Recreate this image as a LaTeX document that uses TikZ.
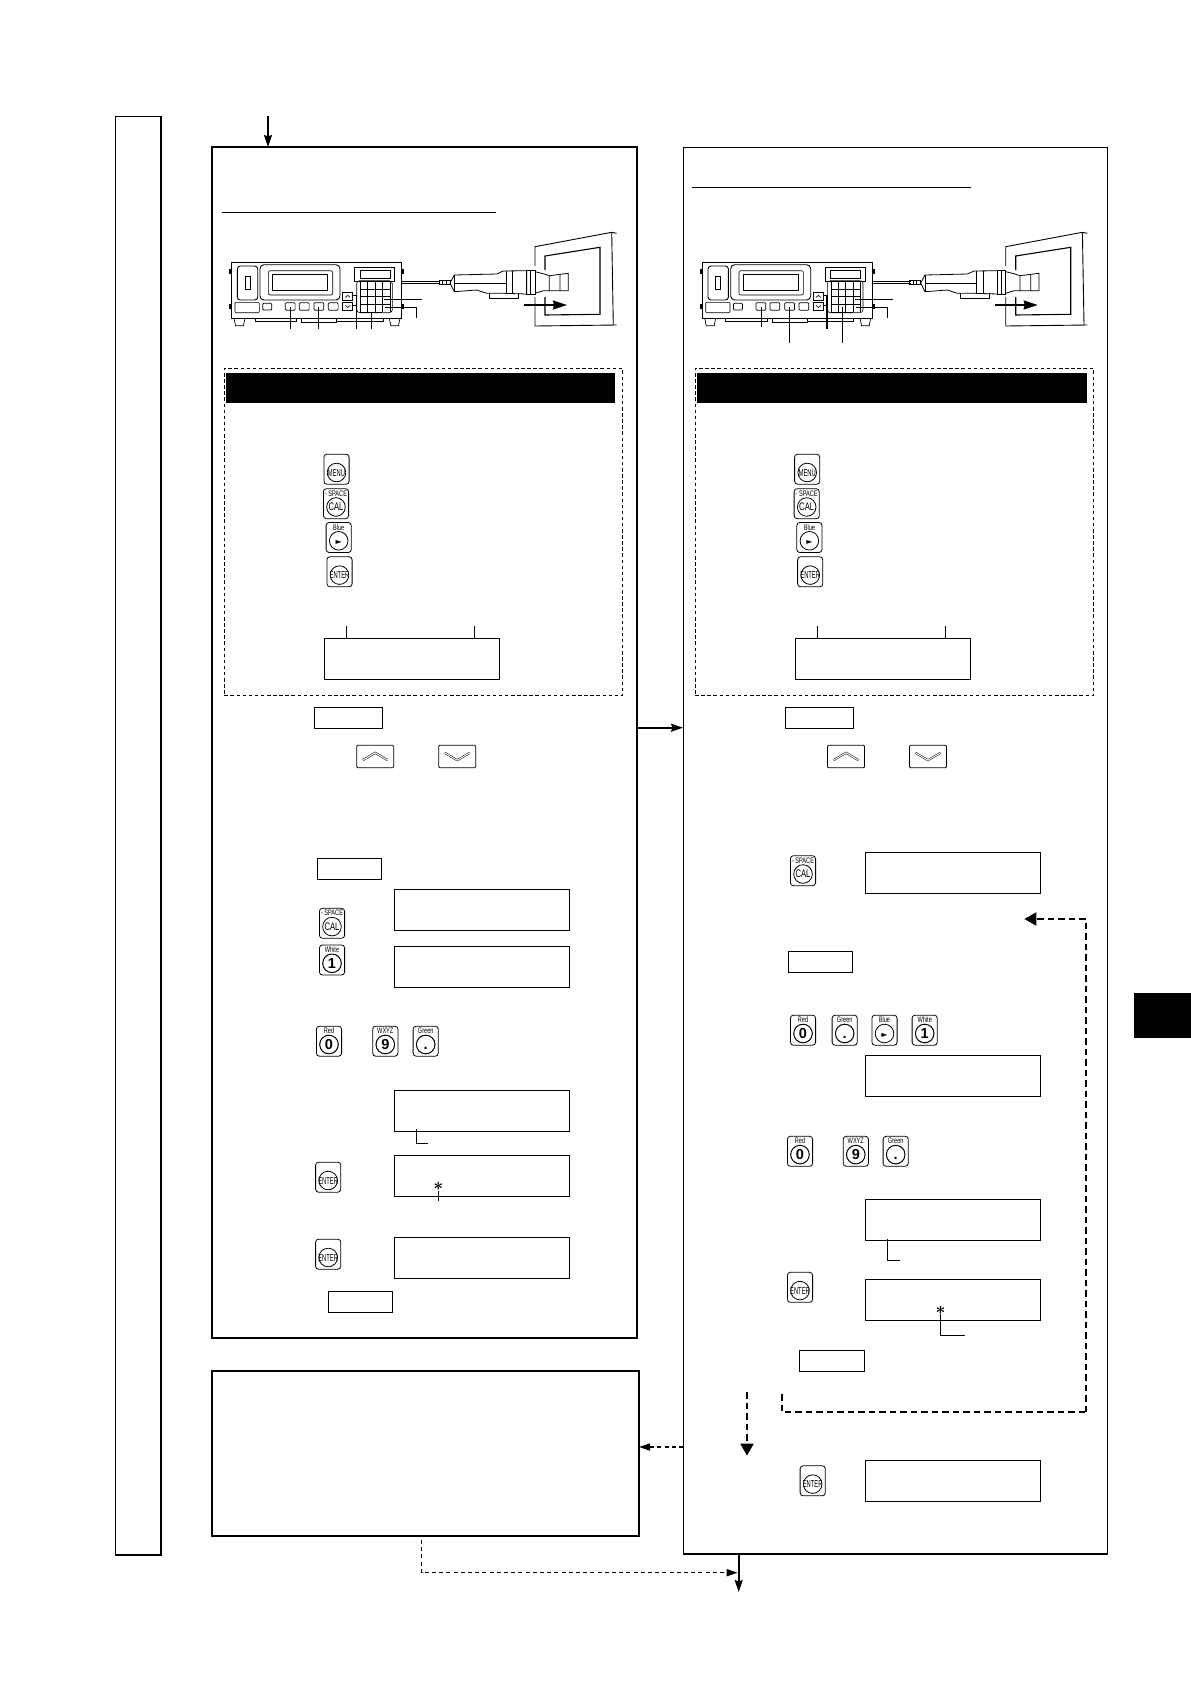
\documentclass[tikz,border=0pt]{standalone}
\usepackage{amsmath,amssymb}
\usepackage{fontspec}
\setmainfont{Liberation Sans}
\newfontfamily\keyfont[FakeStretch=0.7]{Liberation Sans}
\newfontfamily\facefont[FakeStretch=0.58]{Liberation Sans}
\newfontfamily\keysym{DejaVu Sans}
\usetikzlibrary{arrows.meta,calc,positioning}
\definecolor{manualInk}{HTML}{000000}

\begin{document}
\begin{tikzpicture}[x=1pt,y=-1pt,draw=manualInk,
  boxsize/.style 2 args={minimum width=#1pt,minimum height=#2pt,inner sep=0pt,outer sep=0pt},
  sidebar/.style={draw,line width=1.2pt,boxsize={46}{1438.7}},
  panel/.style={draw,line width=1pt,boxsize={#1}},
  dashbox/.style={draw,line width=0.8pt,dash pattern=on 3.5pt off 2.6pt,boxsize={398.4}{327}},
  blackbar/.style={fill=black,boxsize={#1}{30}},
  lcd/.style={draw,line width=0.9pt,boxsize={175}{41}},
  softbox/.style={draw,line width=0.8pt,boxsize={#1}{21}},
  arrowkey/.style={draw,line width=0.8pt,rounded corners=1pt,boxsize={37}{22.4}},
  keycap/.style={draw,line width=0.8pt,rounded corners=3pt,boxsize={25.2}{30}},
  keydial/.style={draw,circle,line width=0.8pt,minimum size=18.6pt,inner sep=0pt},
  keyword/.style={font=\facefont\fontsize{10}{10}\selectfont,text height=7.2pt,text depth=0pt,inner sep=0pt},
  keydigit/.style={font=\bfseries\fontsize{14.5}{15}\selectfont,text height=10.4pt,text depth=0pt,inner sep=0pt},
  keytop/.style={font=\keyfont\fontsize{8}{8}\selectfont,text height=5.8pt,text depth=0pt,inner sep=0pt},
  flow/.style={line width=1.6pt,-{Stealth[length=12pt,width=8pt,inset=1.5pt]}},
  loopdash/.style={line width=1.8pt,dash pattern=on 6.5pt off 4pt,-{Triangle[length=12pt,width=13pt]}},
  thindash/.style={line width=1.5pt,dash pattern=on 4pt off 3.2pt,-{Triangle[length=11pt,width=7pt]}},
  leader/.style={line width=0.8pt},
  heavyleader/.style={line width=1.3pt},
  meterview/.pic={
    % console body and its display
    \draw[line width=0.9pt] (231.7,262.3) rectangle (401.7,318);
    \draw[line width=0.9pt,rounded corners=3pt] (237.3,266) rectangle (257.7,300);
    \draw[line width=0.7pt] (245,276) rectangle (250,289);
    \draw[line width=0.9pt,rounded corners=4pt] (260,264.7) rectangle (340,300);
    \draw[line width=0.6pt,rounded corners=2pt] (268.3,270.7) rectangle (332.7,295);
    \draw[line width=0.7pt] (272.7,274.3) rectangle (327.7,290.7);
    \draw[line width=0.6pt,rounded corners=1pt] (235,302.3) rectangle (259.3,312.7);
    \draw[line width=0.8pt,rounded corners=1pt] (262.7,303.3) rectangle (271.7,310);
    \foreach \bx in {285.3,299.3,314,328.3}
      {\draw[line width=0.7pt,rounded corners=1pt] (\bx,302.7) rectangle ++(9.8,7.5);}
    \draw[line width=0.5pt] (354.3,267.7) rectangle (394.3,281.7);
    \draw[line width=0.5pt] (360,270.7) rectangle (390,278.7);
    \draw[line width=0.6pt,rounded corners=3pt] (356.7,280.7) rectangle (392.3,312.7);
    % keypad grid
    \foreach \gx in {367.7,375,382.3,390} {\draw[line width=0.5pt] (\gx,281.7)--(\gx,312.3);}
    \foreach \gy in {289.3,296.7,304.3} {\draw[line width=0.5pt] (360.7,\gy)--(390,\gy);}
    \draw[line width=1.3pt] (382.3,281.7)--(360.7,281.7)--(360.7,312.3)--(382.3,312.3);
    \foreach \ky in {292.7,302.7}
      {\draw[line width=0.7pt] (342.7,\ky) rectangle ++(10,7.3);}
    \draw[line width=0.6pt] (345.2,297.4)--(347.7,295.4)--(350.2,297.4);
    \draw[line width=0.6pt] (345.2,305.4)--(347.7,307.4)--(350.2,305.4);
    % feet and base strips
    \draw[line width=0.7pt] (234,318)--(235.5,325.7)--(243.5,325.7)--(245,318);
    \draw[line width=0.7pt] (389.3,318)--(390.8,325.7)--(398.5,325.7)--(400,318);
    \draw[line width=0.7pt] (255,318)--(255,321)--(296.7,321)--(296.7,318);
    \draw[line width=0.7pt] (301.7,318)--(301.7,322.3)--(336.7,322.3)--(336.7,318);
    \draw[line width=0.7pt] (336.7,321)--(383,321)--(383,318);
    \foreach \kx/\ky in {230/271.7,230/306.7,403.3/271.7,403.3/306.7}
      {\fill (\kx-1,\ky-2.5) rectangle ++(2,5);}
    % cable and probe
    \draw[line width=0.8pt] (402,281)--(440,281) (402,283.7)--(440,283.7);
    \draw[line width=0.6pt] (439,280)  rectangle (450,284.3) (442.5,280)--(442.5,284.3) (446,280)--(446,284.3);
    \draw[line width=0.7pt] (489.3,293.3)--(489.3,298.3)--(518.3,298.3)--(518.3,293.3);
    \draw[line width=0.8pt] (450,283) -- (454.3,275) -- (496.7,274) -- (503.3,271) -- (526.7,270.7)
      -- (526.7,294) -- (503.3,293.3) -- (486.7,293.3) -- (476.7,290) -- (454.3,291.7) -- cycle;
    \draw[line width=1pt] (455,283.3)--(506,283.3);
    \draw[line width=0.7pt] (506,271)--(506,293.3) (512.7,271)--(512.7,293.5) (454.3,275)--(454.3,291.7);
    \draw[line width=0.8pt] (526.7,270) rectangle (535,294) (530.7,270)--(530.7,294);
    \draw[line width=0.8pt] (535,271.7)--(544.3,274)--(549.3,275.7)--(549.3,290.7)--(543.3,290.7)--(535,293.3);
    \draw[line width=0.8pt] (549.3,275.7)--(568.3,273.3)--(568.3,290.7)--(549.3,290.7) (560,274.5)--(560,290.7);
    % framed screen
    \draw[line width=0.9pt] (535,266)--(535,246.7)--(611.7,232.3)--(616.7,233.3);
    \draw[line width=0.9pt] (535,297)--(535,326)--(616.7,325) (611.7,232.3)--(613.3,325);
    \draw[line width=1.1pt] (545,270)--(545,256)--(600,247.3)--(600,314.3)--(545,315)--(545,297);
    \draw[line width=2pt,-{Stealth[length=14pt,width=9pt,inset=1pt]}] (524,305)--(567,305);
  }]
  \fill[white] (0,0) rectangle (1191,1684);
  \path[use as bounding box] (0,0) rectangle (1191,1684);

  % Frames first, then everything that sits on them.
  \node[sidebar] (sideBar) at (138.3,835.6) {};
  \draw[line width=2pt] (sideBar.north east)--(sideBar.south east);
  \node[panel={{425}{1191}},line width=1.8pt] (leftPanel) at (424.5,742.5) {};
  \node[panel={{424}{1407}}] (rightPanel) at (895,850.5) {};
  \draw[line width=2.2pt] (rightPanel.south west)--(rightPanel.south east);
  \node[panel={{427}{165}},line width=1.3pt] (noteBox) at (425.5,1453.5) {};
  \draw[line width=2pt] (noteBox.south west)--(noteBox.south east);
  \node[fill=black,boxsize={57}{44.7}] (sideTab) at (1162.5,1015.3) {};

  \draw[line width=0.9pt] (222,212)--(496,212);
  \draw[line width=0.9pt] (692,187)--(971,187);

  \pic (meterL) at (0,0) {meterview};
  \pic (meterR) at (470.7,0) {meterview};

  \node[dashbox] (dashL) at (423.5,531.8) {};
  \node[dashbox] (dashR) at (894.3,531.8) {};
  \node[blackbar=389] (barL) at (420.5,387.7) {};
  \node[blackbar=390] (barR) at (892,387.7) {};

  % Leaders under the two consoles differ in length and weight.
  \foreach \lx/\ly in {290/329,318.7/329,761.3/326.7,789.7/342.7,842.7/342.7}
    {\draw[leader] (\lx,307)--(\lx,\ly);}
  \draw[heavyleader] (371.7,312)--(371.7,329);
  \draw[leader] (352.7,295.7)--(356.7,295.7)--(356.7,329) (352.7,305.3)--(356.7,305.3);
  \draw[heavyleader] (823.4,295.7)--(827,295.7)--(827,328.7);
  \draw[leader] (823.4,305.3)--(827,305.3);
  \foreach \dx in {0,470.7} {
    \draw[heavyleader] (384.3+\dx,299.3)--(422+\dx,299.3);
    \draw[leader] (385+\dx,307.7)--(416.7+\dx,307.7)--(416.7+\dx,317.7);
  }

  % Displays, named by panel
  \foreach \lcdname/\x/\y in {lcdA/412.3/658.8,lcdB/883.2/658.8,
      lcdC/481.8/910,lcdD/481.8/966.8,lcdE/481.8/1110.8,lcdF/481.8/1175.8,lcdG/481.8/1257.8,
      lcdH/953/872.8,lcdI/953/1075.8,lcdJ/953/1219.8,lcdK/953/1299.8,lcdL/953/1480.8}
    {\node[lcd] (\lcdname) at (\x,\y) {};}
  \foreach \softname/\x/\y/\softw in {softA/348.5/717.8/68.4,softB/349.3/868.8/64,softC/360.3/1301.8/64,
      softD/819.5/717.8/68.4,softE/820.5/961.5/64.4,softF/831.8/1360.8/65}
    {\node[softbox=\softw] (\softname) at (\x,\y) {};}
  \foreach \arrowname/\x/\dirn in {upA/375.2/-1,downA/457.2/1,upB/846/-1,downB/928/1} {
    \node[arrowkey] (\arrowname) at (\x,756.5) {};
    \draw[line width=0.5pt,double,double distance=1pt]
      ([shift={(-12.4,-3.6*\dirn)}]\arrowname.center)--([shift={(0,3.7*\dirn)}]\arrowname.center)
      --([shift={(12.4,-3.6*\dirn)}]\arrowname.center);
  }

  % Keys with a word or symbol on the dial
  \foreach \keyname/\x/\y/\toptext/\facetext in {
      menuA/336.5/469.2/{}/MENU,calA/336/503.7/{- SPACE}/{\keyfont\fontsize{11}{11}\selectfont CAL},
      blueA/338.7/537.5/Blue/{\keysym\fontsize{8}{8}\selectfont ►},enterA/339.5/571.8/{}/ENTER,
      menuB/807.2/469.2/{}/MENU,calB/806.7/503.7/{- SPACE}/{\keyfont\fontsize{11}{11}\selectfont CAL},
      blueB/809.4/537.5/Blue/{\keysym\fontsize{8}{8}\selectfont ►},enterB/810.2/571.8/{}/ENTER,
      calC/332/923.3/{- SPACE}/{\keyfont\fontsize{11}{11}\selectfont CAL},enterC/328.2/1177.2/{}/ENTER,
      enterD/328.2/1254.2/{}/ENTER,calD/803/870.7/{- SPACE}/{\keyfont\fontsize{11}{11}\selectfont CAL},
      blueC/884.5/1030.2/Blue/{\keysym\fontsize{8}{8}\selectfont ►},enterE/800/1287.3/{}/ENTER,
      enterF/812.7/1480.8/{}/ENTER} {
    \node[keycap] (\keyname) at (\x,\y) {};
    \node[keydial] (\keyname-dial) at ([yshift=-3.3pt]\keyname.center) {};
    \node[keyword] (\keyname-face) at (\keyname-dial.center) {\facetext};
    \node[keytop] (\keyname-top) at ([yshift=10.3pt]\keyname.center) {\toptext};
  }
  % Keys with a bold figure on the dial
  \foreach \keyname/\x/\y/\toptext/\facetext in {
      whiteA/332/960/White/1,redA/329/1041.2/Red/0,wxyzA/385.3/1041.2/WXYZ/9,greenA/425.7/1041.2/Green/.,
      redB/803/1030.2/Red/0,greenB/844.7/1030.2/Green/.,whiteB/924.7/1030.2/White/1,
      redC/800/1151.3/Red/0,wxyzB/855.8/1151.3/WXYZ/9,greenC/895.7/1151.3/Green/.} {
    \node[keycap] (\keyname) at (\x,\y) {};
    \node[keydial,line width=1pt] (\keyname-dial) at ([yshift=-3.3pt]\keyname.center) {};
    \node[keydigit] (\keyname-face) at (\keyname-dial.center) {\facetext};
    \node[keytop] (\keyname-top) at ([yshift=10.3pt]\keyname.center) {\toptext};
  }

  % Leaders hanging off the displays
  \foreach \lcdname/\dx in {lcdA/22,lcdA/150,lcdB/22,lcdB/150}
    {\draw[leader] ($(\lcdname.north west)+(\dx,0)$)--++(0,-12.5);}
  \draw[leader] ($(lcdE.south west)+(22,-2)$)|-++(11.4,14);
  \draw[leader] ($(lcdJ.south west)+(22,-1)$)|-++(12.6,21);
  \node[font=\fontsize{16}{16}\selectfont,inner sep=0pt] (starA) at (438.3,1186.7) {$\boldsymbol{\ast}$};
  \node[font=\fontsize{16}{16}\selectfont,inner sep=0pt] (starB) at (940.7,1310) {$\boldsymbol{\ast}$};
  \draw[leader] (starA.south)--++(0,10);
  \draw[leader] (starB.south)|-++(24.7,21);

  % Flow between the frames
  \coordinate (startIn) at (268,116);
  \coordinate (crossLevel) at (660,727.7);
  \coordinate (noteLevel) at (660,1447);
  \coordinate (bottomOut) at (738.7,1592);
  \coordinate (mergePt) at (737.6,1572.7);
  \coordinate (loopFoot) at (781.7,1394);
  \coordinate (loopCorner) at (1086,1412);
  \coordinate (loopEnd) at (1024.3,919);
  \coordinate (skipTop) at (747,1392);
  \coordinate (skipEnd) at (747,1455.7);
  \draw[flow] (startIn)--(startIn |- leftPanel.north);
  \draw[flow] (leftPanel.east |- crossLevel)--(rightPanel.west |- crossLevel);
  \draw[flow] (rightPanel.south -| bottomOut)--(bottomOut);
  \draw[thindash] (rightPanel.west |- noteLevel)--(noteBox.east |- noteLevel);
  \draw[thindash] ($(noteBox.south west)+(209.5,4)$) |- (mergePt);
  \draw[line width=1.8pt,dash pattern=on 6.5pt off 4pt] (loopFoot) |- (loopCorner);
  \draw[loopdash] (loopCorner) |- (loopEnd);
  \draw[loopdash] (skipTop)--(skipEnd);
\end{tikzpicture}
\end{document}
